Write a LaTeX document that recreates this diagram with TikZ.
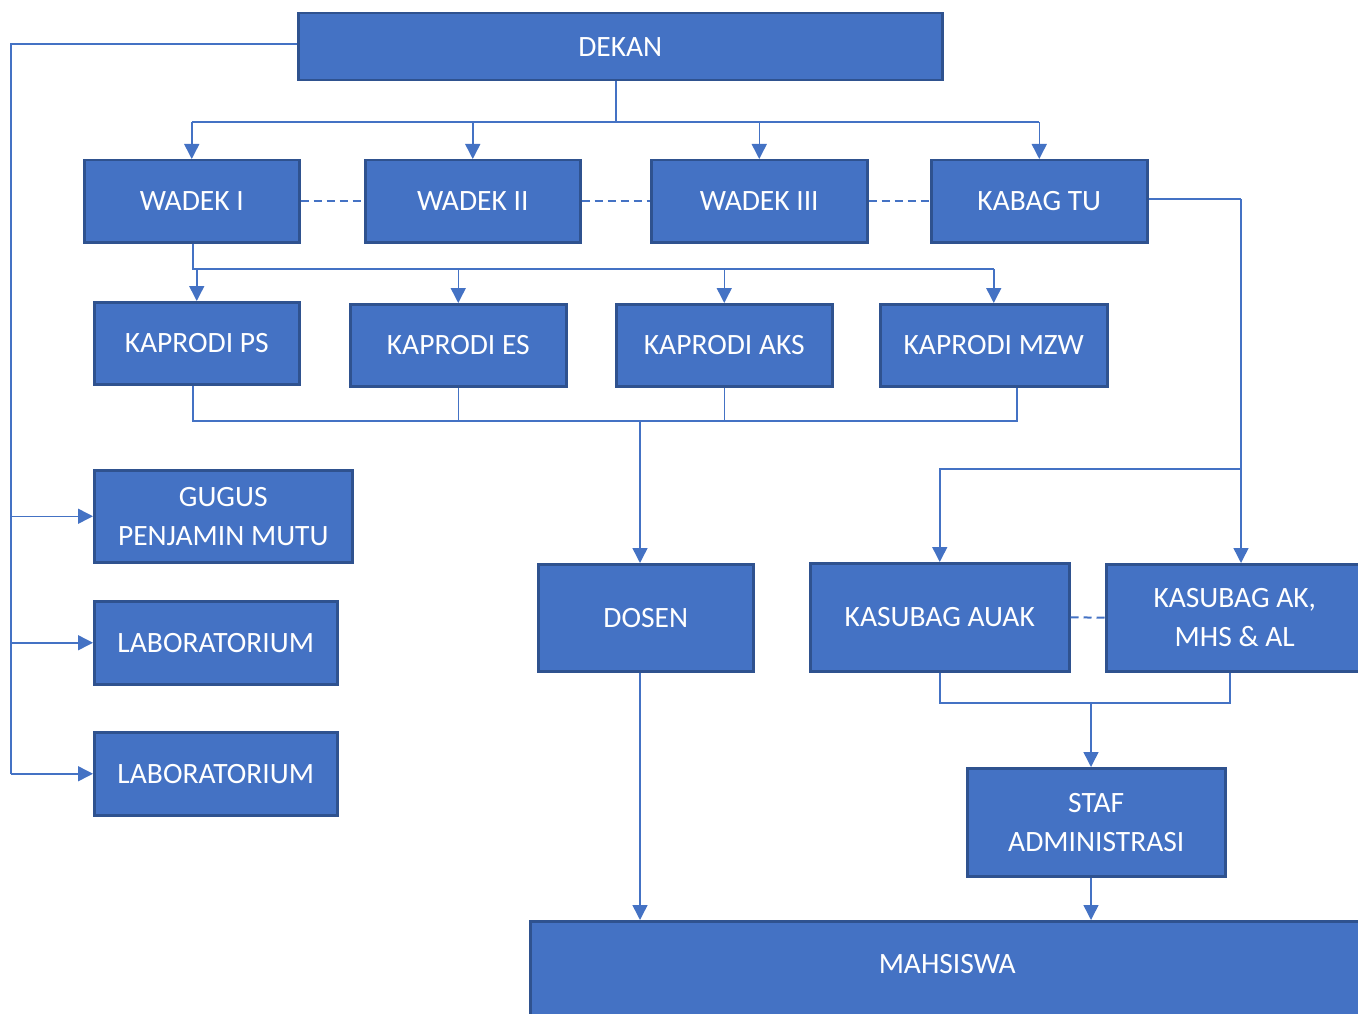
\documentclass[tikz,border=0pt]{standalone}
\usepackage{fontspec}
\setmainfont{Carlito}
\usetikzlibrary{arrows.meta,calc}
\definecolor{boxfill}{HTML}{4472C4}
\definecolor{boxline}{HTML}{2F528F}
\definecolor{conn}{HTML}{4472C4}
\tikzset{
  box/.style={draw=boxline, fill=boxfill, line width=2.5pt, text=white,
    font=\fontsize{29.5}{39}\selectfont, align=center, anchor=north west,
    inner sep=0pt},
  conline/.style={draw=conn, line width=1.5pt},
  arr/.style={conline, -{Triangle[length=15pt,width=15pt]}},
  dashline/.style={draw=conn, line width=2pt, dash pattern=on 8pt off 5pt},
}
\begin{document}
\begin{tikzpicture}[x=1pt,y=-1pt]
\useasboundingbox (0,0) rectangle (1358,1014);
\clip (0,0) rectangle (1358,1014);
% boxes
\node[box, minimum width=644, minimum height=67] (dekan) at (297,12) {DEKAN};
\node[box, minimum width=215, minimum height=82] (w1) at (83,159) {WADEK I};
\node[box, minimum width=215, minimum height=82] (w2) at (364,159) {WADEK II};
\node[box, minimum width=216, minimum height=82] (w3) at (650,159) {WADEK III};
\node[box, minimum width=216, minimum height=82] (tu) at (930,159) {KABAG TU};
\node[box, minimum width=205, minimum height=82] (ps) at (93,301) {KAPRODI PS};
\node[box, minimum width=216, minimum height=82] (es) at (349,303) {KAPRODI ES};
\node[box, minimum width=216, minimum height=82] (aks) at (615,303) {KAPRODI AKS};
\node[box, minimum width=227, minimum height=82] (mzw) at (879,303) {KAPRODI MZW};
\node[box, minimum width=258, minimum height=92] (gpm) at (93,469) {GUGUS\\PENJAMIN MUTU};
\node[box, minimum width=243, minimum height=83] (lab1) at (93,600) {LABORATORIUM};
\node[box, minimum width=243, minimum height=83] (lab2) at (93,731) {LABORATORIUM};
\node[box, minimum width=215, minimum height=107] (dosen) at (537,563) {DOSEN};
\node[box, minimum width=259, minimum height=108] (auak) at (809,562) {KASUBAG AUAK};
\node[box, minimum width=257, minimum height=107] (akm) at (1105,563) {KASUBAG AK,\\MHS \& AL};
\node[box, minimum width=258, minimum height=108] (staf) at (966,767) {STAF\\ADMINISTRASI};
\node[box, minimum width=834, inner ysep=0pt, text height=52pt, text depth=70pt] (mhs) at (529,920) {MAHSISWA};
% coordinates
\coordinate (busA) at (616,122);
\coordinate (busL) at (11,44);
\coordinate (busB) at (193,269);
\coordinate (busC) at (640,421);
\coordinate (mzwx) at (1017,0);
\coordinate (tuR) at (1241,199);
\coordinate (tuJ) at (1241,469);
\coordinate (akmx) at (1230,0);
\coordinate (busD) at (1091,703);
% DEKAN -> wadek
\draw[conline] (dekan.south -| busA) -- (busA);
\draw[conline] (busA -| w1.north) -- (busA -| tu.north);
\draw[arr] (busA -| w1.north) -- (w1.north);
\draw[arr] (busA -| w2.north) -- (w2.north);
\draw[arr] (busA -| w3.north) -- (w3.north);
\draw[arr] (busA -| tu.north) -- (tu.north);
% DEKAN -> left column
\draw[conline] (dekan.west |- busL) -- (busL) -- (busL |- lab2.west);
\draw[arr] (busL |- gpm.west) -- (gpm.west);
\draw[arr] (busL |- lab1.west) -- (lab1.west);
\draw[arr] (busL |- lab2.west) -- (lab2.west);
% dashed between wadek
\draw[dashline] (w1.east) -- (w2.west);
\draw[dashline] (w2.east) -- (w3.west);
\draw[dashline] (w3.east) -- (tu.west);
% WADEK I -> kaprodi
\draw[conline] (w1.south -| busB) -- (busB) -- (busB -| mzw.north);
\draw[arr] (busB -| ps.north) -- (ps.north);
\draw[arr] (busB -| es.north) -- (es.north);
\draw[arr] (busB -| aks.north) -- (aks.north);
\draw[arr] (busB -| mzw.north) -- (mzw.north);
% kaprodi -> dosen
\draw[conline] (ps.south -| busB) -- (busC -| busB) -- (busC -| mzwx) -- (mzw.south -| mzwx);
\draw[conline] (es.south) -- (busC -| es.south);
\draw[conline] (aks.south) -- (busC -| aks.south);
\draw[arr] (busC) -- (dosen.north -| busC);
% KABAG TU -> kasubag
\draw[conline] (tu.east |- tuR) -- (tuR);
\draw[arr] (tuR) -- (akm.north -| tuR);
\draw[arr] (tuJ) -- (tuJ -| auak.north) -- (auak.north);
\draw[dashline] (auak.east) -- (akm.west);
% kasubag -> staf
\draw[conline] (auak.south) -- (busD -| auak.south) -- (busD -| akmx) -- (akm.south -| akmx);
\draw[arr] (busD) -- (staf.north -| busD);
% -> mahasiswa
\draw[arr] (dosen.south -| busC) -- (mhs.north -| busC);
\draw[arr] (staf.south -| busD) -- (mhs.north -| busD);
\end{tikzpicture}
\end{document}
